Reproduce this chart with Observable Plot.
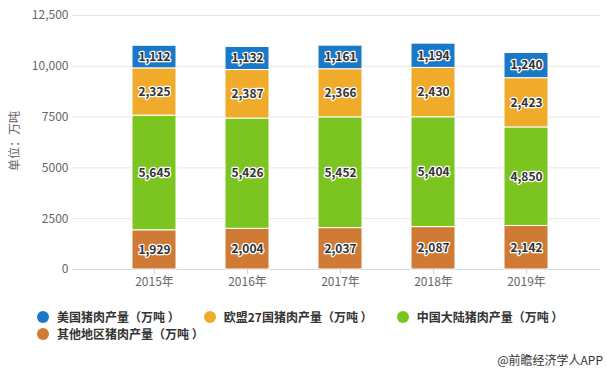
<!DOCTYPE html>
<html><head><meta charset="utf-8">
<script src="https://cdn.jsdelivr.net/npm/d3@7"></script>
<script src="https://cdn.jsdelivr.net/npm/@observablehq/plot@0.6"></script>
<style>
body{margin:0;background:#fff;font-family:"Noto Sans CJK SC","Noto Sans",sans-serif;}
#wrap{position:relative;width:607px;height:371px;overflow:hidden;}
#chart{position:absolute;left:0;top:0;}
#ytitle{position:absolute;left:13px;top:141px;transform:translate(-50%,-50%) rotate(-90deg);font-size:12px;color:#666;white-space:nowrap;}
#legend{position:absolute;left:37px;top:308px;width:568px;display:flex;flex-wrap:wrap;row-gap:0;}
.item{display:flex;align-items:center;margin-right:24px;height:17px;font-size:12px;font-weight:bold;color:#333;white-space:nowrap;}
.dot{width:12px;height:12px;border-radius:50%;margin-right:8px;}
#caption{position:absolute;right:4px;top:351px;font-size:12px;color:#333;}
</style></head><body>
<div id="wrap"><div id="chart"></div><div id="ytitle">单位：万吨</div><div id="legend"></div><div id="caption">@前瞻经济学人APP</div></div>
<script>
const years = ["2015年","2016年","2017年","2018年","2019年"];
const seriesNames = ["美国猪肉产量（万吨 ）","欧盟27国猪肉产量（万吨 ）","中国大陆猪肉产量（万吨 ）","其他地区猪肉产量（万吨 ）"];
const seriesColors = ["#1a78c8","#f0ab2b","#7cc521","#cf7a35"];
const usValues = [1112,1132,1161,1194,1240];
const euValues = [2325,2387,2366,2430,2423];
const chinaValues = [5645,5426,5452,5404,4850];
const otherValues = [1929,2004,2037,2087,2142];
const yTicks = [0,2500,5000,7500,10000,12500];
const yTickLabels = ["0","2500","5000","7500","10,000","12,500"];

const seriesValues = [usValues, euValues, chinaValues, otherValues];
// stacking order bottom to top: other, china, eu, us
const stackOrder = [seriesNames[3], seriesNames[2], seriesNames[1], seriesNames[0]];
const rows = [];
for (const s of [3,2,1,0]) years.forEach((y,i)=>rows.push({year:y, series:seriesNames[s], value:seriesValues[s][i]}));
const fmt = d3.format(",");
const tickLabelMap = new Map(yTicks.map((t,i)=>[t,yTickLabels[i]]));

const chart = Plot.plot({
  width: 607, height: 295,
  marginTop: 15, marginBottom: 26, marginLeft: 72, marginRight: 7,
  x: {domain: years, range: [82, 597], padding: 0.53, label: null},
  y: {domain: [0, 12500], label: null},
  color: {domain: seriesNames, range: seriesColors},
  style: {fontFamily: '"Noto Sans CJK SC","Noto Sans",sans-serif', fontSize: "12px", background: "transparent"},
  marks: [
    Plot.gridY(yTicks, {stroke: "#e6e6e6", strokeOpacity: 1}),
    Plot.ruleY([0], {stroke: "#ccd6eb"}),
    Plot.barY(rows, Plot.stackY({x: "year", y: "value", fill: "series", order: stackOrder, stroke: "white", strokeWidth: 1})),
    Plot.text(rows, Plot.stackY({x: "year", y: "value", z: "series", order: stackOrder, text: d => fmt(d.value),
      fill: "#333", stroke: "white", strokeWidth: 2.5, fontWeight: "bold", fontSize: 12})),
    Plot.axisY(yTicks, {tickSize: 0, tickPadding: 4, tickFormat: d => tickLabelMap.get(d), fill: "#666", label: null}),
    Plot.axisX({tickSize: 5, tickPadding: 3, stroke: "#ccd6eb", fill: "#666", label: null})
  ]
});
document.getElementById("chart").appendChild(chart);

const legend = document.getElementById("legend");
seriesNames.forEach((n,i)=>{
  const it = document.createElement("div"); it.className = "item";
  const dot = document.createElement("span"); dot.className = "dot"; dot.style.background = seriesColors[i];
  const t = document.createElement("span"); t.textContent = n;
  it.appendChild(dot); it.appendChild(t); legend.appendChild(it);
});
</script>
</body></html>
